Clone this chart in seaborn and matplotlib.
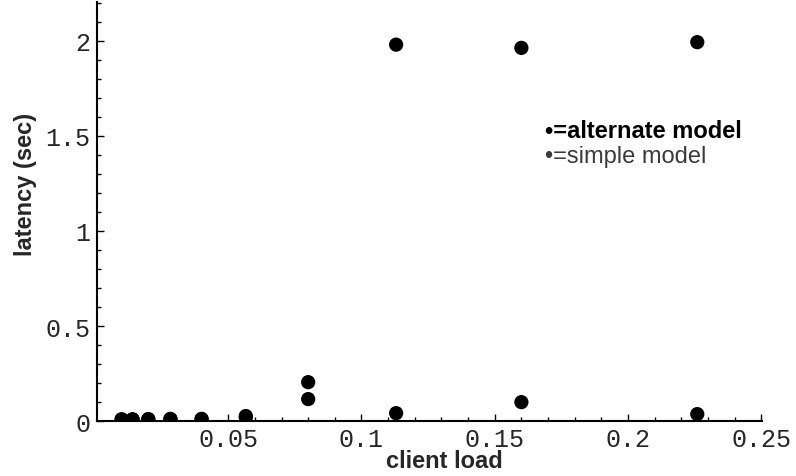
import pandas as pd
import matplotlib.pyplot as plt
import matplotlib.ticker as mticker
import seaborn as sns

# client load values where both models were evaluated
load = [0.01, 0.0141, 0.02, 0.0283, 0.04, 0.0566, 0.08, 0.113, 0.16, 0.226]
alternate = [0.010, 0.010, 0.011, 0.012, 0.012, 0.027, 0.116, 0.042, 0.10, 0.037]
simple = [0.008, 0.008, 0.009, 0.010, 0.010, 0.02, 0.205, 1.98, 1.963, 1.993]

x_ticks = [0.05, 0.1, 0.15, 0.2, 0.25]
x_labels = ["0.05", "0.1", "0.15", "0.2", "0.25"]
y_ticks = [0, 0.5, 1, 1.5, 2]
y_labels = ["0", "0.5", "1", "1.5", "2"]

df = pd.concat([
    pd.DataFrame({"load": load, "latency": alternate, "model": "alternate model"}),
    pd.DataFrame({"load": load, "latency": simple, "model": "simple model"}),
])

sns.set_style("white")
plt.rcParams['font.family'] = ['Liberation Sans', 'DejaVu Sans']

fig = plt.figure(figsize=(7.96, 4.77), dpi=100)
ax = fig.add_axes([0.122, 0.115, 0.835, 0.879])

sns.scatterplot(data=df, x="load", y="latency", hue="model",
                palette=["black", "black"], s=105, linewidth=0,
                legend=False, ax=ax)

ax.set_xlim(0.0008, 0.2502)
ax.set_ylim(0, 2.205)

for side in ["top", "right"]:
    ax.spines[side].set_visible(False)
for side in ["left", "bottom"]:
    ax.spines[side].set_linewidth(1.5)
    ax.spines[side].set_color("black")
    ax.spines[side].set_zorder(3)

ax.xaxis.set_major_locator(mticker.FixedLocator(x_ticks))
ax.xaxis.set_major_formatter(mticker.FixedFormatter(x_labels))
ax.xaxis.set_minor_locator(mticker.MultipleLocator(0.01))
ax.yaxis.set_major_locator(mticker.FixedLocator(y_ticks))
ax.yaxis.set_major_formatter(mticker.FixedFormatter(y_labels))
ax.yaxis.set_minor_locator(mticker.MultipleLocator(0.1))

ax.tick_params(which="both", direction="in", color="black", width=1,
               bottom=True, left=True)
ax.tick_params(which="major", length=5)
ax.tick_params(which="minor", length=3)
ax.tick_params(axis="x", pad=4)
ax.tick_params(axis="y", pad=5)
for lab in ax.get_xticklabels() + ax.get_yticklabels():
    lab.set_family("Liberation Mono")
    lab.set_fontsize(18)

ax.set_xlabel("client load", fontsize=17, fontweight="bold")
ax.set_ylabel("latency (sec)", fontsize=17, fontweight="bold")
ax.xaxis.set_label_coords(0.522, -0.067)
ax.yaxis.set_label_coords(-0.09, 0.568)

ax.text(0.674, 0.678, "\u2022=alternate model", transform=ax.transAxes,
        fontsize=17, fontweight="bold", color="black", va="baseline")
ax.text(0.674, 0.618, "\u2022=simple model", transform=ax.transAxes,
        fontsize=17, color="#3a3a3a", va="baseline")

fig.savefig("out.png", dpi=100)
